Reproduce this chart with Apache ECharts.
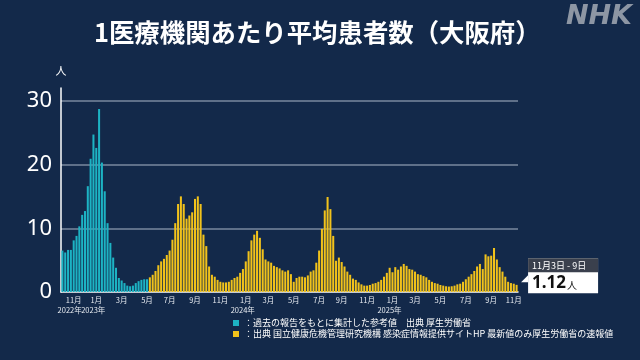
<!DOCTYPE html>
<html><head><meta charset="utf-8">
<script src="https://cdn.jsdelivr.net/npm/echarts@6/dist/echarts.min.js"></script>
<style>html,body{margin:0;padding:0;background:#13294a}#c{width:640px;height:360px}</style>
</head><body><div id="c"></div>
<script>
const titleText = '1医療機関あたり平均患者数（大阪府）';
const logoText = 'NHK';
const unitLabel = '人';
const startWeek = '2022-10-03';
const cyanName = '：過去の報告をもとに集計した参考値　出典 厚生労働省';
const yellowName = '：出典 国立健康危機管理研究機構 感染症情報提供サイトHP 最新値のみ厚生労働省の速報値';
const latestPeriod = '11月3日 - 9日';
const yMax = 32;
const yInterval = 10;

// weekly values, 2022-10-03 .. 2023-05-01 (reference values)
const cyanValues = [6.5, 6.2, 6.6, 6.6, 8.1, 8.8, 10.3, 12.1, 12.7, 16.6,
  20.9, 24.7, 22.6, 28.7, 20.3, 15.8, 10.8, 7.7, 5.4, 3.8,
  2.2, 1.8, 1.4, 1.0, 0.9, 1.0, 1.4, 1.7, 1.9, 2.0, 2.0];
// weekly values, 2023-05-08 .. 2025-11-03
const yellowValues = [2.3, 2.7, 3.3, 4.2, 4.8, 5.2, 5.8, 6.5, 8.2, 10.8,
  13.8, 15.0, 13.8, 11.5, 12.0, 12.5, 14.6, 15.0, 13.8, 9.0,
  7.2, 4.0, 2.7, 2.4, 1.9, 1.6, 1.5, 1.5, 1.6, 1.9,
  2.2, 2.4, 3.0, 3.6, 4.8, 6.4, 8.1, 9.0, 9.6, 8.5,
  6.7, 5.1, 4.8, 4.6, 4.1, 3.9, 3.7, 3.4, 3.2, 3.4,
  2.8, 1.6, 2.2, 2.4, 2.4, 2.3, 2.6, 3.2, 3.4, 4.6,
  6.5, 9.9, 12.8, 14.9, 13.0, 8.8, 4.9, 5.4, 4.7, 4.0,
  3.2, 2.7, 2.1, 1.9, 1.5, 1.2, 1.0, 1.0, 1.1, 1.3,
  1.4, 1.6, 1.9, 2.4, 3.0, 3.8, 3.1, 3.9, 3.5, 4.0,
  4.4, 4.1, 3.6, 3.5, 3.2, 2.8, 2.7, 2.5, 2.3, 1.9,
  1.6, 1.4, 1.3, 1.1, 1.0, 0.9, 0.85, 0.9, 1.0, 1.2,
  1.3, 1.6, 2.0, 2.4, 2.8, 3.3, 4.0, 4.4, 3.6, 5.9,
  5.6, 5.7, 6.9, 5.1, 3.9, 3.2, 2.4, 1.6, 1.4, 1.3,
  1.12];

const nWeeks = cyanValues.length + yellowValues.length;
const categories = [];
const t0 = Date.parse(startWeek + 'T00:00:00Z');
for (let i = 0; i < nWeeks; i++) {
  categories.push(new Date(t0 + i * 7 * 86400000).toISOString().slice(0, 10));
}
function weekEnd(v) { return new Date(Date.parse(v + 'T00:00:00Z') + 6 * 86400000); }
function isTick(v) {
  const e = weekEnd(v);
  return e.getUTCDate() <= 7 && (e.getUTCMonth() + 1) % 2 === 1;
}
function isJanTick(v) { return isTick(v) && weekEnd(v).getUTCMonth() === 0; }
const firstTickIdx = categories.findIndex(isTick);

const cyanData = categories.map((c, i) => i < cyanValues.length ? cyanValues[i] : '-');
const yellowData = categories.map((c, i) => i < cyanValues.length ? '-' : yellowValues[i - cyanValues.length]);
const lastIdx = nWeeks - 1;
const lastVal = yellowValues[yellowValues.length - 1];

const font = "'Noto Sans CJK JP', 'Noto Sans', sans-serif";
const labelColor = '#e6eaf0';
function yearAxis(showFn, padding) {
  return {
    type: 'category', data: categories, boundaryGap: true, position: 'bottom',
    axisLine: {show: false}, axisTick: {show: false}, splitLine: {show: false},
    axisLabel: {
      interval: (idx, v) => showFn(idx, v), margin: 14, color: labelColor,
      fontSize: 7.5, fontFamily: font, padding: padding,
      formatter: (v) => weekEnd(v).getUTCFullYear() + '年'
    }
  };
}
const chart = echarts.init(document.getElementById('c'), null, {renderer: 'canvas'});
chart.setOption({
  animation: false,
  backgroundColor: '#13294a',
  textStyle: {fontFamily: font},
  title: [
    {text: titleText, left: 94, top: 20, padding: 0,
     textStyle: {color: '#ffffff', fontSize: 25.4, fontWeight: 'bold', fontFamily: font}},
    {text: logoText, right: 8, top: 3, padding: 0,
     textStyle: {color: '#8d96a4', fontSize: 27, fontWeight: 900, fontStyle: 'italic', fontFamily: "'DejaVu Sans', sans-serif"}}
  ],
  legend: {
    orient: 'vertical', left: 233, top: 318, padding: 0,
    itemWidth: 6, itemHeight: 6, itemGap: 1, icon: 'rect',
    textStyle: {color: '#ffffff', fontSize: 9, lineHeight: 10, fontFamily: font},
    data: [cyanName, yellowName]
  },
  grid: {left: 61, right: 122, top: 88, bottom: 68},
  xAxis: [
    {
      type: 'category', data: categories, boundaryGap: true,
      axisLine: {lineStyle: {color: '#ffffff', width: 1.5}},
      axisTick: {show: false},
      axisLabel: {
        interval: (idx, v) => isTick(v), margin: 4, color: labelColor,
        fontSize: 7.5, fontFamily: font,
        formatter: (v) => (weekEnd(v).getUTCMonth() + 1) + '月'
      }
    },
    yearAxis((idx, v) => isJanTick(v), [0, 6, 0, 0]),
    yearAxis((idx, v) => idx === firstTickIdx, [0, 8, 0, 0])
  ],
  yAxis: {
    type: 'value', min: 0, max: yMax, interval: yInterval,
    name: unitLabel, nameLocation: 'end', nameGap: 12,
    nameTextStyle: {color: '#ffffff', fontSize: 11, fontFamily: font},
    axisLine: {show: true, lineStyle: {color: '#ffffff', width: 1.5}},
    axisTick: {show: false},
    axisLabel: {color: '#ffffff', fontSize: 22, margin: 9, showMaxLabel: false, fontFamily: "'Noto Sans', sans-serif"},
    splitLine: {show: true, showMinLine: false, showMaxLine: false,
      lineStyle: {color: 'rgba(190,200,215,0.6)', width: 1.5}}
  },
  series: [
    {name: cyanName, type: 'bar', data: cyanData, barGap: '-100%', barCategoryGap: '28%',
     itemStyle: {color: '#1db3c4'}},
    {name: yellowName, type: 'bar', data: yellowData, barGap: '-100%', barCategoryGap: '28%',
     itemStyle: {color: '#f1c21b'},
     markPoint: {
       silent: true,
       symbol: 'path://M0,10 L10,0 L10,10 Z', symbolSize: [7, 7], symbolOffset: [8, -6],
       itemStyle: {color: '#ffffff'},
       data: [{coord: [categories[lastIdx], lastVal], value: lastVal}],
       label: {
         show: true, position: [7, -17], padding: 0, backgroundColor: '#ffffff',
         formatter: () => '{d|' + latestPeriod + '}\n{v|' + lastVal.toFixed(2) + '}{u|' + unitLabel + '}',
         rich: {
           d: {backgroundColor: '#3a404d', color: '#ffffff', fontSize: 9, width: 62, height: 14, lineHeight: 14, padding: [0, 4, 0, 4], align: 'left', fontFamily: font},
           v: {color: '#111111', fontSize: 17, fontWeight: 'bold', lineHeight: 21, height: 21, padding: [0, 1, 0, 4], fontFamily: "'Noto Sans', sans-serif"},
           u: {color: '#111111', fontSize: 10, lineHeight: 21, height: 21, padding: [4, 0, 0, 0], fontFamily: font}
         }
       }
     }}
  ]
});
</script></body></html>
